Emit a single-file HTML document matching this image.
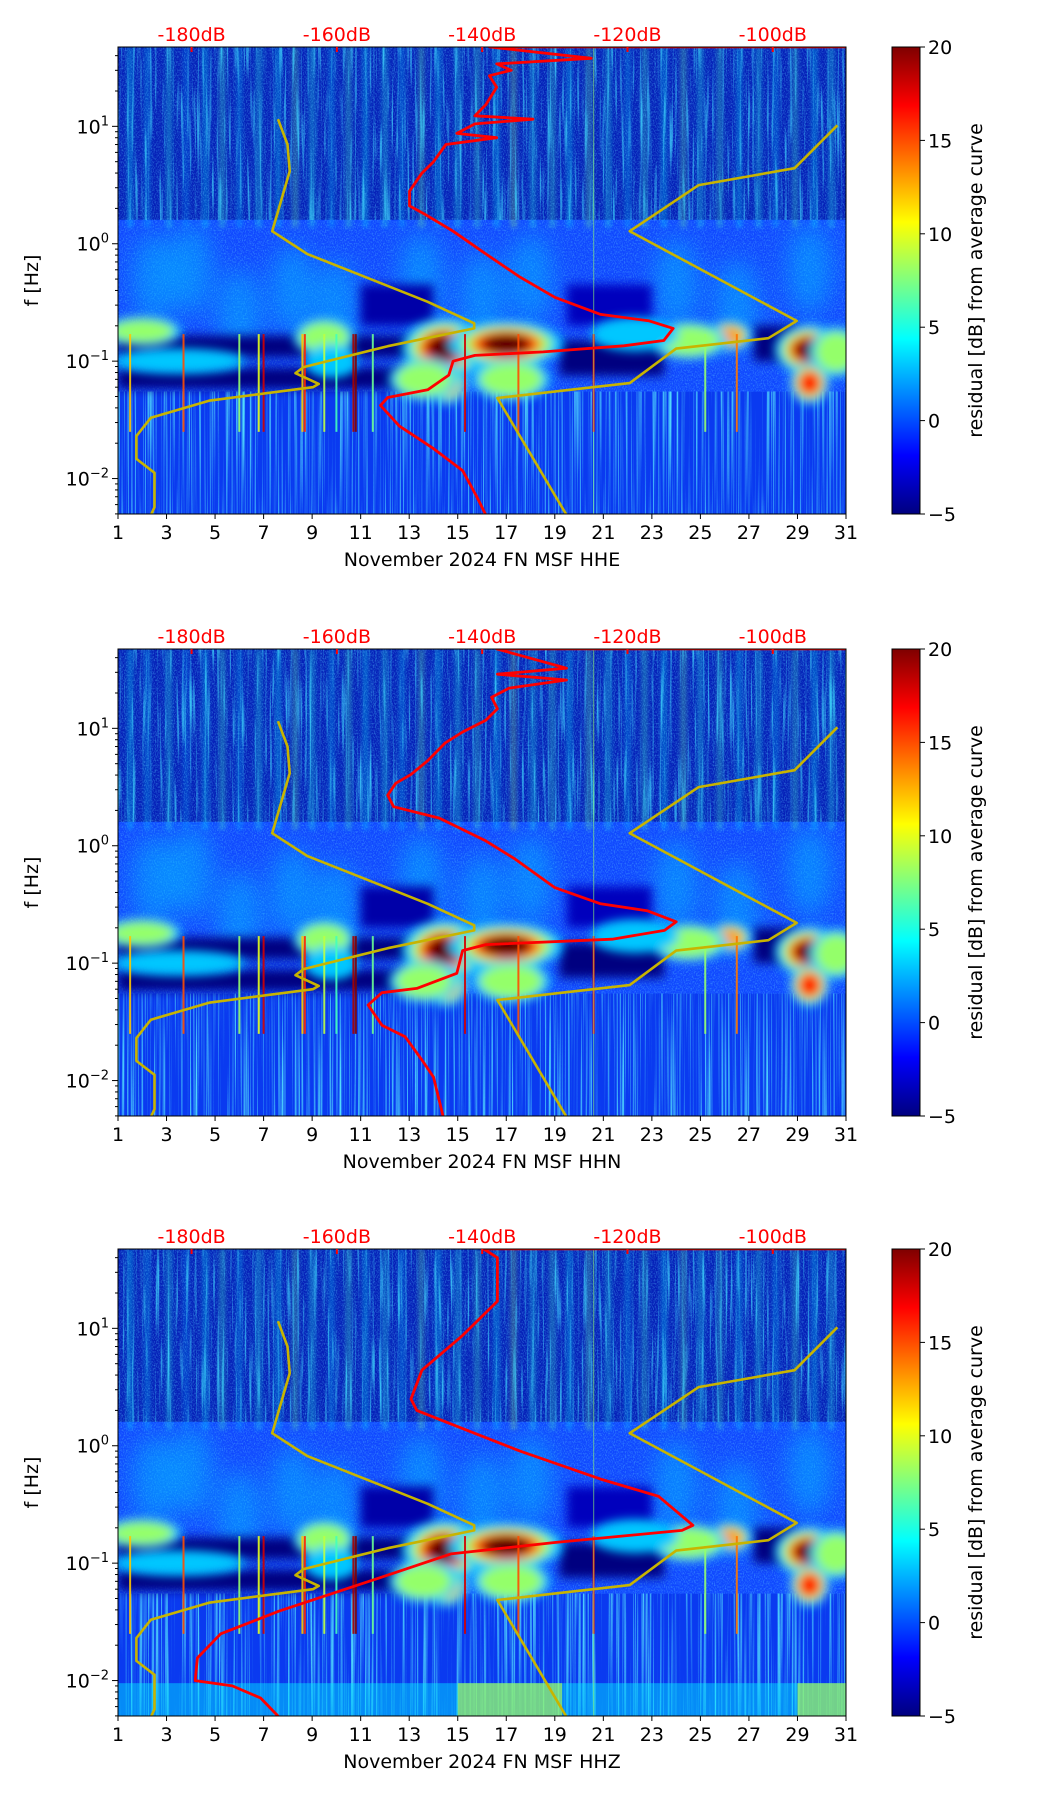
<!DOCTYPE html>
<html><head><meta charset="utf-8"><style>
html,body{margin:0;padding:0;background:#fff;}
svg{display:block;font-family:"DejaVu Sans","Liberation Sans",sans-serif;}
</style></head><body>
<svg id="fig" width="1052" height="1806" viewBox="0 0 1052 1806" xmlns="http://www.w3.org/2000/svg">
<defs>
<filter id="blur6" x="-50%" y="-50%" width="200%" height="200%"><feGaussianBlur stdDeviation="5"/></filter>
<filter id="blur3" x="-50%" y="-50%" width="200%" height="200%"><feGaussianBlur stdDeviation="2"/></filter>
<filter id="blur12" x="-50%" y="-50%" width="200%" height="200%"><feGaussianBlur stdDeviation="12"/></filter>
<filter id="noiseV" x="0" y="0" width="100%" height="100%">
<feTurbulence type="fractalNoise" baseFrequency="0.4 0.012" numOctaves="2" seed="3"/>
<feColorMatrix type="matrix" values="0 0 0 0 0.05  0 0 0 0 0.75  0 0 0 0 1  3.2 0 0 0 -1.7"/>
</filter>
<filter id="noiseF" x="0" y="0" width="100%" height="100%">
<feTurbulence type="fractalNoise" baseFrequency="0.9 0.6" numOctaves="1" seed="7"/>
<feColorMatrix type="matrix" values="0 0 0 0 0.1  0 0 0 0 0.55  0 0 0 0 1  2.5 0 0 0 -1.1"/>
</filter>
<filter id="noiseL" x="0" y="0" width="100%" height="100%">
<feTurbulence type="fractalNoise" baseFrequency="0.6 0.004" numOctaves="2" seed="11"/>
<feColorMatrix type="matrix" values="0 0 0 0 0.1  0 0 0 0 0.85  0 0 0 0 1  3 0 0 0 -1.45"/>
</filter>
<linearGradient id="jetGrad" x1="0" y1="1" x2="0" y2="0">
<stop offset="0" stop-color="#00007f"/><stop offset="0.125" stop-color="#0000ff"/>
<stop offset="0.375" stop-color="#00ffff"/><stop offset="0.625" stop-color="#ffff00"/>
<stop offset="0.875" stop-color="#ff0000"/><stop offset="1" stop-color="#7f0000"/>
</linearGradient>
</defs>
</svg>
<script>
// ---- data ----
const panelTitles = ["November 2024 FN MSF  HHE","November 2024 FN MSF  HHN","November 2024 FN MSF  HHZ"];
const dayTicks = [1,3,5,7,9,11,13,15,17,19,21,23,25,27,29,31];
const dbTicks = [-180,-160,-140,-120,-100];
const cbTicks = [20,15,10,5,0,-5];
const fDecades = [10,1,0.1,0.01];
const fDecadeLabels = ["1","0","−1","−2"];
// red curves (dB, Hz) per panel
const red1Db = [-90,-139,-125,-138,-136,-139,-138,-139.5,-141,-133,-141,-143.5,-138,-145,-146.7,-148.3,-150,-150,-148,-144,-139.5,-134.8,-130,-123.7,-117,-113.7,-115,-120.5,-131.6,-141,-144,-144.6,-147.5,-153,-154,-151.4,-146.7,-142.7,-140.8,-139.5];
const red1F  = [47.5,47.5,38,34,30,27,21.5,15.3,12.3,11.5,10.5,8.7,8.0,7.0,5.0,4.0,2.8,2.1,1.8,1.28,0.82,0.52,0.35,0.25,0.22,0.19,0.15,0.135,0.12,0.112,0.1,0.076,0.057,0.049,0.042,0.028,0.018,0.0117,0.0071,0.0049];
const red2Db = [-90,-138,-128.4,-137.9,-128.4,-136.3,-138.7,-137.9,-139.5,-142.7,-145.1,-147.5,-149.8,-151.9,-153,-152.2,-145.9,-139.5,-135.6,-130,-123.7,-117.3,-113.3,-114.9,-122.1,-139.5,-142.7,-143.5,-149,-153.8,-155.7,-153.8,-150.6,-148.3,-146.7,-145.4];
const red2F  = [47.5,47.5,32.5,28.9,25.8,22,18.4,14.7,11.7,9.3,7.5,5.3,4.05,3.4,2.7,2.15,1.72,1.1,0.78,0.44,0.32,0.28,0.225,0.19,0.16,0.144,0.128,0.082,0.061,0.056,0.044,0.0296,0.0236,0.015,0.0107,0.005];
const red3Db = [-90,-139.8,-137.9,-137.9,-142.7,-148.3,-149.8,-149,-142.7,-134.8,-123.7,-115.7,-111,-112.5,-130,-144.3,-153.8,-168,-176,-179.2,-179.5,-174.4,-170.5,-168];
const red3F  = [47.5,47.5,40,17,8.7,4.4,2.5,2.0,1.4,0.9,0.52,0.37,0.21,0.19,0.15,0.12,0.076,0.039,0.025,0.0156,0.01,0.009,0.0071,0.0049];
// noise model curves (dB, Hz)
const nlnmDb = [-168.1,-166.8,-166.5,-168.9,-164.1,-147.5,-141.1,-141.1,-153,-164.6,-165.7,-162.5,-163.3,-177.6,-185.6,-187.6,-187.6,-185.1,-185.1,-185.6];
const nlnmF  = [11.5,7.0,4.15,1.28,0.82,0.32,0.21,0.19,0.134,0.089,0.079,0.064,0.06,0.046,0.033,0.023,0.0147,0.0112,0.0057,0.0049];
const nhnmDb = [-91.1,-97,-110.2,-119.7,-96.7,-100.6,-113.3,-119.7,-137.9,-128.4];
const nhnmF  = [10.2,4.4,3.16,1.28,0.22,0.157,0.128,0.065,0.0485,0.0049];
// hot blobs (day, Hz, half-width days, half-height decades, peak residual dB)
const blobDay = [14.5,17.0,29.5,14.5,29.5,17.2,26.2,24.5,2.0,9.5,9.8,3.5,30.6,13.6,22.3];
const blobF   = [0.13,0.14,0.125,0.065,0.065,0.07,0.165,0.15,0.18,0.16,0.1,0.1,0.12,0.07,0.17];
const blobW   = [1.0,1.3,0.8,0.5,0.45,0.9,0.5,0.9,0.9,0.7,0.6,1.5,0.6,0.8,1.0];
const blobH   = [0.14,0.11,0.12,0.1,0.1,0.1,0.07,0.09,0.07,0.09,0.08,0.06,0.12,0.1,0.08];
const blobV   = [22,22,22,17,16,11,15,11,9,10,6,5,9,8,6];
// dark bands (dayStart, dayEnd, fHigh, fLow, residual)
const darkD0 = [1,1,19.2,27.2,11,19.5];
const darkD1 = [13.3,13.0,23.5,29.0,14,23];
const darkFH = [0.165,0.088,0.15,0.2,0.45,0.45];
const darkFL = [0.108,0.058,0.075,0.1,0.2,0.2];
const darkV  = [-5,-5,-5,-5,-4,-3.5];
// vertical high-frequency stripes (day, residual)
const stripeDay = [1.5,2.2,3.1,3.8,4.6,5.3,6.0,6.8,7.6,8.3,9.0,9.8,10.5,11.2,12.0,12.7,13.5,14.2,15.0,15.8,16.6,17.3,18.1,18.9,19.6,20.4,21.2,22.0,22.7,23.5,24.3,25.0,25.8,26.6,27.4,28.1,28.9,29.7,30.4];
const stripeV   = [4,3,5,2,4,6,3,5,4,7,5,3,6,4,5,3,7,4,5,6,4,8,5,6,4,7,5,3,6,4,7,5,6,4,5,3,6,4,5];
// thin low-frequency spikes (day, residual)
const spikeDay = [1.5,3.7,6.0,6.8,7.0,8.6,8.7,9.5,10.0,10.7,10.8,11.5,15.3,17.5,20.6,25.2,26.5];
const spikeV   = [12,15,8,10,18,12,16,9,6,19,20,7,18,15,17,8,14];

// ---- helpers ----
const NS="http://www.w3.org/2000/svg";
const svg=document.getElementById('fig');
const L=118,R=846,H=467,tops=[47,649,1249];
const F_TOP=47.4,F_BOT=0.00499;
const DB0=-190.13,DB1=-89.92;
const xDay=d=>L+(d-1)/30*(R-L);
const xDb=v=>L+(v-DB0)/(DB1-DB0)*(R-L);
const yF=(T,f)=>T+(Math.log10(F_TOP)-Math.log10(f))/(Math.log10(F_TOP)-Math.log10(F_BOT))*H;
const cl=v=>Math.max(0,Math.min(1,v));
function jet(v){const t=(v+5)/25;const r=cl(1.5-Math.abs(4*t-3)),g=cl(1.5-Math.abs(4*t-2)),b=cl(1.5-Math.abs(4*t-1));
 return `rgb(${Math.round(r*255)},${Math.round(g*255)},${Math.round(b*255)})`;}
function mk(tag,attrs,parent){const e=document.createElementNS(NS,tag);for(const k in attrs)e.setAttribute(k,attrs[k]);(parent||svg).appendChild(e);return e;}
function txt(s,attrs,parent){const e=mk('text',attrs,parent);e.textContent=s;return e;}

const redSets=[[red1Db,red1F],[red2Db,red2F],[red3Db,red3F]];
const FS=19;

tops.forEach((T,pi)=>{
 const g=mk('g',{});
 
 
 const cp=mk('clipPath',{id:'cp'+pi},g);
 mk('rect',{x:L,y:T,width:R-L,height:H},cp);
 const sp=mk('g',{'clip-path':`url(#cp${pi})`},g);
 
 
 // base
 mk('rect',{x:L,y:T,width:R-L,height:H,fill:'#1048ff'},sp);
 mk('rect',{x:L,y:T,width:R-L,height:H,fill:'#000',filter:'url(#noiseF)',opacity:0.5},sp);
 // mid wisps
 const mid=mk('g',{filter:'url(#blur12)'},sp);
 [[4,0.6],[8.2,0.4],[10,0.3],[13.5,0.5],[16,0.35],[18,0.5],[24,0.45],[26.5,0.3],[29.5,0.6],[6,0.25],[2.5,0.5]].forEach(([d,f])=>{
  mk('ellipse',{cx:xDay(d),cy:yF(T,f),rx:22,ry:45,fill:jet(3),opacity:0.45},mid);
 });
 // top region
 const yTopEnd=yF(T,1.6);
 mk('rect',{x:L,y:T,width:R-L,height:yTopEnd-T,fill:'#0520b8'},sp);
 const st=mk('g',{filter:'url(#blur3)'},sp);
 stripeDay.forEach((d,i)=>{
  const r=mk('rect',{x:xDay(d)-3,y:T,width:6,height:yTopEnd-T+8,fill:jet(stripeV[i]),opacity:0.3},st);
  
  
 });
 mk('rect',{x:L,y:T,width:R-L,height:yTopEnd-T,fill:'#000',filter:'url(#noiseV)',opacity:0.8},sp);
 mk('rect',{x:L,y:T,width:R-L,height:yTopEnd-T,fill:'#000',filter:'url(#noiseF)',opacity:0.5},sp);
 // low region streaks
 const yLow=yF(T,0.055);
 mk('rect',{x:L,y:yLow,width:R-L,height:T+H-yLow,fill:'#0a3af0'},sp);
 mk('rect',{x:L,y:yLow,width:R-L,height:T+H-yLow,fill:'#000',filter:'url(#noiseL)',opacity:0.9},sp);
 if(pi===2){
  const yb=yF(T,0.0095);
  mk('rect',{x:L,y:yb,width:R-L,height:T+H-yb,fill:jet(4),opacity:0.45},sp);
  mk('rect',{x:xDay(15),y:yb,width:xDay(19.3)-xDay(15),height:T+H-yb,fill:jet(9),opacity:0.6},sp);
  mk('rect',{x:xDay(29),y:yb,width:xDay(31)-xDay(29),height:T+H-yb,fill:jet(9),opacity:0.6},sp);
 }
 // dark bands
 const dk=mk('g',{filter:'url(#blur6)'},sp);
 darkD0.forEach((d0,i)=>{
  const y0=yF(T,darkFH[i]),y1=yF(T,darkFL[i]);
  mk('rect',{x:xDay(d0),y:y0,width:xDay(darkD1[i])-xDay(d0),height:y1-y0,fill:jet(darkV[i])},dk);
 });
 // blobs
 const bl=mk('g',{filter:'url(#blur6)'},sp);
 blobDay.forEach((d,i)=>{
  const cx=xDay(d),cy=yF(T,blobF[i]);
  const rx=blobW[i]*(R-L)/30, ry=blobH[i]*117;
  const levels=[[1.8,3],[1.45,8],[1.15,13],[0.95,17],[0.75,21]];
  levels.forEach(([s,v])=>{ if(v<=blobV[i]+1){
   const e=mk('ellipse',{cx:cx,cy:cy,rx:rx*s,ry:ry*s,fill:jet(Math.min(v,blobV[i]))},bl);
   
   
  }});
 });
 // spikes
 spikeDay.forEach((d,i)=>{
  mk('rect',{x:xDay(d)-1,y:yF(T,0.17),width:2,height:yF(T,0.025)-yF(T,0.17),fill:jet(spikeV[i]),opacity:0.9},sp);
 });
 mk('rect',{x:xDay(20.6)-0.6,y:T,width:1.2,height:H,fill:jet(8),opacity:0.5},sp);
 // curves
 const lineG=mk('g',{'clip-path':`url(#cp${pi})`},g);
 function poly(dbs,fs,color,w,name){
  const pts=dbs.map((v,i)=>xDb(v).toFixed(1)+','+yF(T,fs[i]).toFixed(1)).join(' ');
  const p=mk('polyline',{points:pts,fill:'none',stroke:color,'stroke-width':w,'stroke-linejoin':'round'},lineG);
  
  
 }
 poly(nlnmDb,nlnmF,'#c8b400',2.6,'nlnm-curve');
 poly(nhnmDb,nhnmF,'#c8b400',2.6,'nhnm-curve');
 poly(redSets[pi][0],redSets[pi][1],'#ff0000',2.8,'average-psd-curve');
 // frame
 mk('rect',{x:L,y:T,width:R-L,height:H,fill:'none',stroke:'#000','stroke-width':1},g);
 // bottom ticks
 dayTicks.forEach(d=>{
  const x=xDay(d);
  mk('line',{x1:x,y1:T+H,x2:x,y2:T+H+5,stroke:'#000'},g);
  const t=txt(String(d),{x:x,y:T+H+25,'font-size':FS,'text-anchor':'middle'},g);
  
  
 });
 const xl=txt(panelTitles[pi],{x:(L+R)/2,y:T+H+52,'font-size':FS,'text-anchor':'middle'},g);
 
 
 // top dB ticks
 dbTicks.forEach(v=>{
  const x=xDb(v);
  mk('line',{x1:x,y1:T,x2:x,y2:T+5,stroke:'#ff0000','stroke-width':2},g);
  const t=txt(v+'dB',{x:x,y:T-6,'font-size':FS,'text-anchor':'middle',fill:'#ff0000'},g);
  
  
 });
 // y ticks
 fDecades.forEach((f,i)=>{
  const y=yF(T,f);
  mk('line',{x1:L-6,y1:y,x2:L,y2:y,stroke:'#000'},g);
  const t=mk('text',{x:L-9,y:y+7,'font-size':FS,'text-anchor':'end'},g);
  
  
  t.innerHTML='10<tspan dy="-8" font-size="13">'+fDecadeLabels[i]+'</tspan>';
 });
 for(let e=-3;e<=1;e++){for(let m=2;m<=9;m++){const f=m*Math.pow(10,e);if(f>F_BOT&&f<F_TOP){const y=yF(T,f);mk('line',{x1:L-3,y1:y,x2:L,y2:y,stroke:'#000'},g);}}}
 const yl=txt('f [Hz]',{x:0,y:0,'font-size':FS,'text-anchor':'middle',transform:`translate(38,${T+H/2}) rotate(-90)`},g);
 
 
 // colorbar
 const cb=mk('rect',{x:892,y:T,width:28,height:H,fill:'url(#jetGrad)',stroke:'#000','stroke-width':1},g);
 
 
 cbTicks.forEach(v=>{
  const y=T+(20-v)/25*H;
  mk('line',{x1:920,y1:y,x2:925,y2:y,stroke:'#000'},g);
  const t=txt(v<0?'−'+(-v):String(v),{x:928,y:y+7,'font-size':FS},g);
  
  
 });
 const cl2=txt('residual [dB] from average curve',{x:0,y:0,'font-size':FS,'text-anchor':'middle',transform:`translate(982,${T+H/2}) rotate(-90)`},g);
 
 
});
</script>
</body></html>
